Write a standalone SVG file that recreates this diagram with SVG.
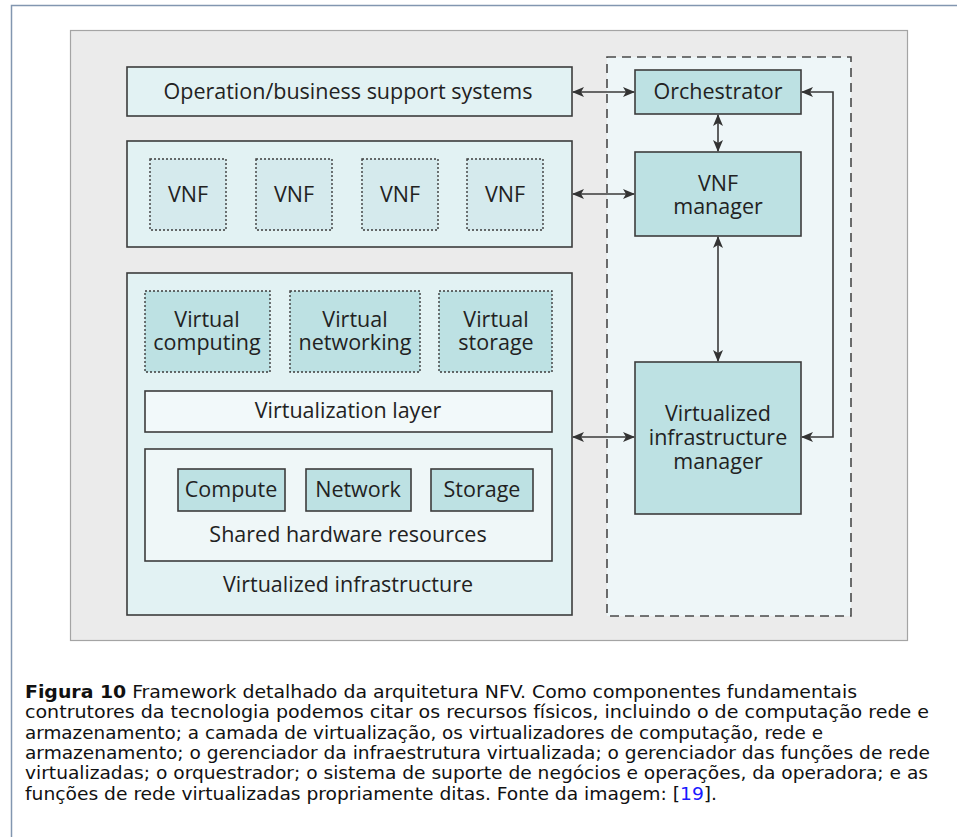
<svg xmlns="http://www.w3.org/2000/svg" width="957" height="837" viewBox="0 0 957 837">
  <style>
    .lbl { font-family: "Open Sans", "Noto Sans", sans-serif; font-size: 21.5px; fill: #222; text-anchor: middle; }
    .box { stroke: #3c3c3c; stroke-width: 1.6; }
    .cont { fill: #e2f2f3; }
    .teal { fill: #bde1e3; }
    .vnf { fill: #d5eaed; stroke: #3c3c3c; stroke-width: 1.4; stroke-dasharray: 2 2; }
    .virt { fill: #bde1e3; stroke: #3c3c3c; stroke-width: 1.4; stroke-dasharray: 2 2; }
    .conn { fill: none; stroke: #3a3a3a; stroke-width: 1.6; }
    .cap { font-family: "DejaVu Sans Condensed", "DejaVu Sans", sans-serif; font-stretch: condensed; font-size: 17.5px; fill: #111; }
  </style>
  <defs>
    <marker id="ah" viewBox="0 0 12 10" refX="11" refY="5" markerWidth="12" markerHeight="10" markerUnits="userSpaceOnUse" orient="auto-start-reverse">
      <path d="M0,0 L12,5 L0,10 L3,5 z" fill="#333"/>
    </marker>
  </defs>

  <rect width="957" height="837" fill="#ffffff"/>
  <!-- page frame -->
  <path d="M11.5,837 V5.5 H957" fill="none" stroke="#8296b0" stroke-width="1.5"/>

  <!-- figure panel -->
  <rect x="70.5" y="30.5" width="837" height="610" fill="#ebebeb" stroke="#a4a4a4" stroke-width="1.2"/>

  <!-- management and orchestration region -->
  <g id="mano">
    <rect x="607" y="57" width="244" height="559" fill="#eef6f8" stroke="#4a4a4a" stroke-width="1.6" stroke-dasharray="9 6"/>
  </g>

  <g id="oss">
    <rect class="box cont" x="127" y="67" width="445" height="49"/>
    <text class="lbl" x="348" y="98.5">Operation/business support systems</text>
  </g>

  <g id="vnf-layer">
    <rect class="box cont" x="127" y="141" width="445" height="106"/>
    <g id="vnf1"><rect class="vnf" x="150" y="159" width="76" height="71"/><text class="lbl" x="188" y="202">VNF</text></g>
    <g id="vnf2"><rect class="vnf" x="256" y="159" width="76" height="71"/><text class="lbl" x="294" y="202">VNF</text></g>
    <g id="vnf3"><rect class="vnf" x="362" y="159" width="76" height="71"/><text class="lbl" x="400" y="202">VNF</text></g>
    <g id="vnf4"><rect class="vnf" x="467" y="159" width="76" height="71"/><text class="lbl" x="505" y="202">VNF</text></g>
  </g>

  <g id="nfvi">
    <rect class="box cont" x="127" y="273" width="445" height="342"/>
    <g id="vcompute"><rect class="virt" x="145" y="291" width="125" height="81"/>
      <text class="lbl" y="327"><tspan x="207">Virtual</tspan><tspan x="207" dy="23">computing</tspan></text></g>
    <g id="vnet"><rect class="virt" x="290" y="291" width="130" height="81"/>
      <text class="lbl" y="327"><tspan x="355">Virtual</tspan><tspan x="355" dy="23">networking</tspan></text></g>
    <g id="vstore"><rect class="virt" x="439" y="291" width="113" height="81"/>
      <text class="lbl" y="327"><tspan x="496">Virtual</tspan><tspan x="496" dy="23">storage</tspan></text></g>
    <g id="virt-layer"><rect class="box" fill="#f2f9fa" x="145" y="391" width="407" height="41"/>
      <text class="lbl" x="348" y="418">Virtualization layer</text></g>
    <g id="hw"><rect class="box" fill="#eff7f8" x="145" y="449" width="407" height="112"/>
      <g id="compute"><rect class="box teal" x="178" y="469" width="107" height="42"/><text class="lbl" x="231" y="497">Compute</text></g>
      <g id="network"><rect class="box teal" x="306" y="469" width="105" height="42"/><text class="lbl" x="358" y="497">Network</text></g>
      <g id="storage"><rect class="box teal" x="431" y="469" width="102" height="42"/><text class="lbl" x="482" y="497">Storage</text></g>
      <text class="lbl" x="348" y="542">Shared hardware resources</text>
    </g>
    <text class="lbl" x="348" y="592">Virtualized infrastructure</text>
  </g>

  <g id="orchestrator">
    <rect class="box teal" x="635" y="70" width="166" height="44"/>
    <text class="lbl" x="718" y="98.5">Orchestrator</text>
  </g>
  <g id="vnfm">
    <rect class="box teal" x="635" y="152" width="166" height="84"/>
    <text class="lbl" y="190.5"><tspan x="718">VNF</tspan><tspan x="718" dy="23">manager</tspan></text>
  </g>
  <g id="vim">
    <rect class="box teal" x="635" y="362" width="166" height="152"/>
    <text class="lbl" y="420.5"><tspan x="718">Virtualized</tspan><tspan x="718" dy="24">infrastructure</tspan><tspan x="718" dy="24">manager</tspan></text>
  </g>

  <g id="connectors">
    <line class="conn" x1="573" y1="92" x2="634" y2="92" marker-start="url(#ah)" marker-end="url(#ah)"/>
    <line class="conn" x1="573" y1="194" x2="634" y2="194" marker-start="url(#ah)" marker-end="url(#ah)"/>
    <line class="conn" x1="573" y1="437" x2="634" y2="437" marker-start="url(#ah)" marker-end="url(#ah)"/>
    <line class="conn" x1="718" y1="115" x2="718" y2="151" marker-start="url(#ah)" marker-end="url(#ah)"/>
    <line class="conn" x1="718" y1="237" x2="718" y2="361" marker-start="url(#ah)" marker-end="url(#ah)"/>
    <path class="conn" d="M802,92 H833 V437 H802" marker-start="url(#ah)" marker-end="url(#ah)"/>
  </g>

  <g id="caption">
    <text class="cap" x="25" y="698" textLength="832" lengthAdjust="spacingAndGlyphs"><tspan font-weight="bold">Figura 10</tspan> Framework detalhado da arquitetura NFV. Como componentes fundamentais</text>
    <text class="cap" x="25" y="718.3" textLength="904" lengthAdjust="spacingAndGlyphs">contrutores da tecnologia podemos citar os recursos físicos, incluindo o de computação rede e</text>
    <text class="cap" x="25" y="738.6" textLength="798" lengthAdjust="spacingAndGlyphs">armazenamento; a camada de virtualização, os virtualizadores de computação, rede e</text>
    <text class="cap" x="25" y="758.9" textLength="905" lengthAdjust="spacingAndGlyphs">armazenamento; o gerenciador da infraestrutura virtualizada; o gerenciador das funções de rede</text>
    <text class="cap" x="25" y="779.2" textLength="903" lengthAdjust="spacingAndGlyphs">virtualizadas; o orquestrador; o sistema de suporte de negócios e operações, da operadora; e as</text>
    <text class="cap" x="25" y="799.5" textLength="692" lengthAdjust="spacingAndGlyphs">funções de rede virtualizadas propriamente ditas. Fonte da imagem: [<tspan fill="#1a1aff">19</tspan>].</text>
  </g>
</svg>
